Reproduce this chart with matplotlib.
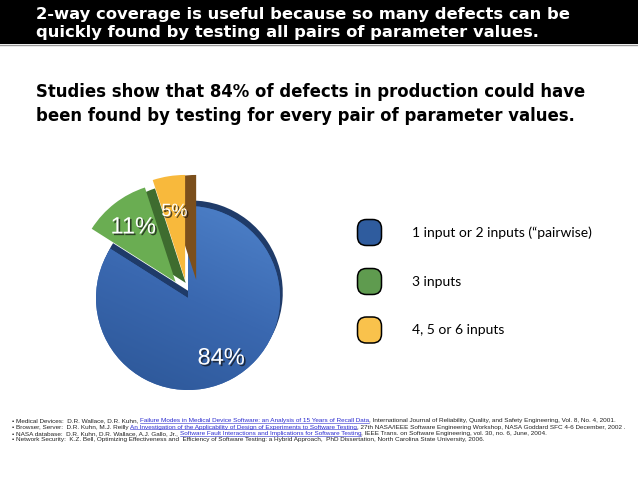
import matplotlib
matplotlib.use("Agg")
import numpy as np
import matplotlib.pyplot as plt
import matplotlib.patheffects as pe
from matplotlib.patches import FancyBboxPatch, Rectangle
from matplotlib.lines import Line2D
from matplotlib.colors import LinearSegmentedColormap

W, H = 638, 479

# ---------------- data ----------------
title_lines = ["2-way coverage is useful because so many defects can be",
               "quickly found by testing all pairs of parameter values."]
subtitle_lines = ["Studies show that 84% of defects in production could have",
                  "been found by testing for every pair of parameter values."]
categories = ["1 input or 2 inputs (\u201cpairwise)", "3 inputs", "4, 5 or 6 inputs"]
shares = [84, 11, 5]
references = [
    [("\u2022 Medical Devices:  D.R. Wallace, D.R. Kuhn, ", False),
     ("Failure Modes in Medical Device Software: an Analysis of 15 Years of Recall Data", True),
     (", International Journal of Reliability, Quality, and Safety Engineering, Vol. 8, No. 4, 2001.", False)],
    [("\u2022 Browser, Server:  D.R. Kuhn, M.J. Reilly ", False),
     ("An Investigation of the Applicability of Design of Experiments to Software Testing", True),
     (", 27th NASA/IEEE Software Engineering Workshop, NASA Goddard SFC 4-6 December, 2002 .", False)],
    [("\u2022 NASA database:  D.R. Kuhn, D.R. Wallace, A.J. Gallo, Jr., ", False),
     ("Software Fault Interactions and Implications for Software Testing", True),
     (", IEEE Trans. on Software Engineering, vol. 30, no. 6, June, 2004.", False)],
    [("\u2022 Network Security:  K.Z. Bell, Optimizing Effectiveness and  Efficiency of Software Testing: a Hybrid Approach,  PhD Dissertation, North Carolina State University, 2006.", False)],
]

# ---------------- styles ----------------
face_colors = ["#3b69b1", "#6aad52", "#f8b93c"]
side_colors = ["#1f3b69", "#3e6c2f", "#7b4f1c"]
legend_colors = ["#2f5c9e", "#5f9b4f", "#f9c24c"]
blue_gradient = ["#2b5595", "#3a68b0", "#5084cc"]
explode = [0.0, 0.22, 0.20]
radii = [1.0, 1.08, 1.14]
side_offsets = [(0.03, 0.06), (0.11, -0.01), (0.12, 0.0)]
label_sizes = [17, 17, 13]

def fx(x):
    return x / W

def fy(y):
    return 1 - y / H

fig = plt.figure(figsize=(W / 100, H / 100), dpi=100)
fig.patch.set_facecolor("white")

# header bar
fig.add_artist(Rectangle((0, fy(44)), 1, 44 / H, transform=fig.transFigure,
                         facecolor="black", edgecolor="none"))
fig.add_artist(Line2D([0, 1], [fy(44.5), fy(44.5)], color="#999999", lw=1.0))

for i, line in enumerate(title_lines):
    fig.text(fx(36), fy(19.5 + i * 17.0), line, color="white", fontsize=11.8,
             fontweight="bold", family="DejaVu Sans", ha="left", va="baseline")

for i, line in enumerate(subtitle_lines):
    fig.text(fx(36.5), fy(97.3 + i * 23.4), line, color="black", fontsize=11.9,
             fontweight="bold", family="DejaVu Sans", ha="left", va="baseline")

# ---------------- pie ----------------
unit = 92.0
cx, cy = 188, 298
half = 160
ax = fig.add_axes([fx(cx - half), (H - cy - half) / H, 2 * half / W, 2 * half / H])

vals = shares[::-1]          # yellow, green, blue counter-clockwise from 12 o'clock
fcols = face_colors[::-1]
scols = side_colors[::-1]
expl = explode[::-1]
rads = radii[::-1]
offs = side_offsets[::-1]
lsz = label_sizes[::-1]

side_w, _ = ax.pie(vals, explode=expl, colors=scols, startangle=90,
                   counterclock=True, wedgeprops=dict(linewidth=0))
main_w, _, autot = ax.pie(vals, explode=expl, colors=fcols, startangle=90,
                          counterclock=True, autopct=lambda p: f"{p:.0f}%",
                          pctdistance=0.75, wedgeprops=dict(linewidth=0))
for k in range(3):
    c = side_w[k].center
    side_w[k].set_center((c[0] + offs[k][0], c[1] + offs[k][1]))
    side_w[k].set_radius(rads[k])
    main_w[k].set_radius(rads[k])
    is_blue = (k == 2)
    side_w[k].set_zorder(1 if is_blue else 3)
    main_w[k].set_zorder(2 if is_blue else 4)
    t = autot[k]
    t.set_color("white")
    t.set_fontsize(lsz[k])
    t.set_family("Liberation Sans")
    t.set_zorder(6)
    t.set_path_effects([pe.SimplePatchShadow(offset=(1.2, -1.2), shadow_rgbFace="#111111", alpha=0.7),
                        pe.Normal()])

# gradient shading on the large wedge
gy, gx = np.mgrid[-1:1:200j, -1:1:200j]
grad = (gy * 0.8 + gx * 0.35)
cmap = LinearSegmentedColormap.from_list("bluegrad", blue_gradient)
im = ax.imshow(grad, extent=[-1.05, 1.05, -1.05, 1.05], origin="lower", cmap=cmap,
               zorder=2.5, interpolation="bilinear")
im.set_clip_path(main_w[2])

ax.set_aspect("auto")
ax.set_xlim(-half / unit, half / unit)
ax.set_ylim(-half / unit, half / unit)
ax.axis("off")

# ---------------- legend ----------------
leg_y = [232.5, 281.5, 330]
for i, lab in enumerate(categories):
    bw, bh = 24, 26
    box = FancyBboxPatch((fx(369.5 - bw / 2 + 4), fy(leg_y[i] + bh / 2 - 4)),
                         (bw - 8) / W, (bh - 8) / H,
                         boxstyle=f"round,pad={4 / W},rounding_size={9 / W}",
                         transform=fig.transFigure, facecolor=legend_colors[i],
                         edgecolor="black", lw=1.1, mutation_aspect=W / H)
    fig.add_artist(box)
    fig.text(fx(412), fy(leg_y[i]), lab, fontsize=10.0, family="Lato",
             color="black", ha="left", va="center")

# ---------------- references ----------------
fig.canvas.draw()
rend = fig.canvas.get_renderer()
fs = 4.55
for i, segs in enumerate(references):
    x = 12
    y = 420.7 + i * 6.33
    for text, link in segs:
        col = "#2b2bd0" if link else "#222222"
        t = fig.text(fx(x), fy(y), text, fontsize=fs, family="Liberation Sans",
                     color=col, ha="left", va="center")
        bb = t.get_window_extent(rend)
        if link:
            fig.add_artist(Line2D([bb.x0 / W, bb.x1 / W], [fy(y + 2.4), fy(y + 2.4)],
                                  lw=0.4, color=col))
        x = bb.x1

fig.savefig("out.png", dpi=100)
